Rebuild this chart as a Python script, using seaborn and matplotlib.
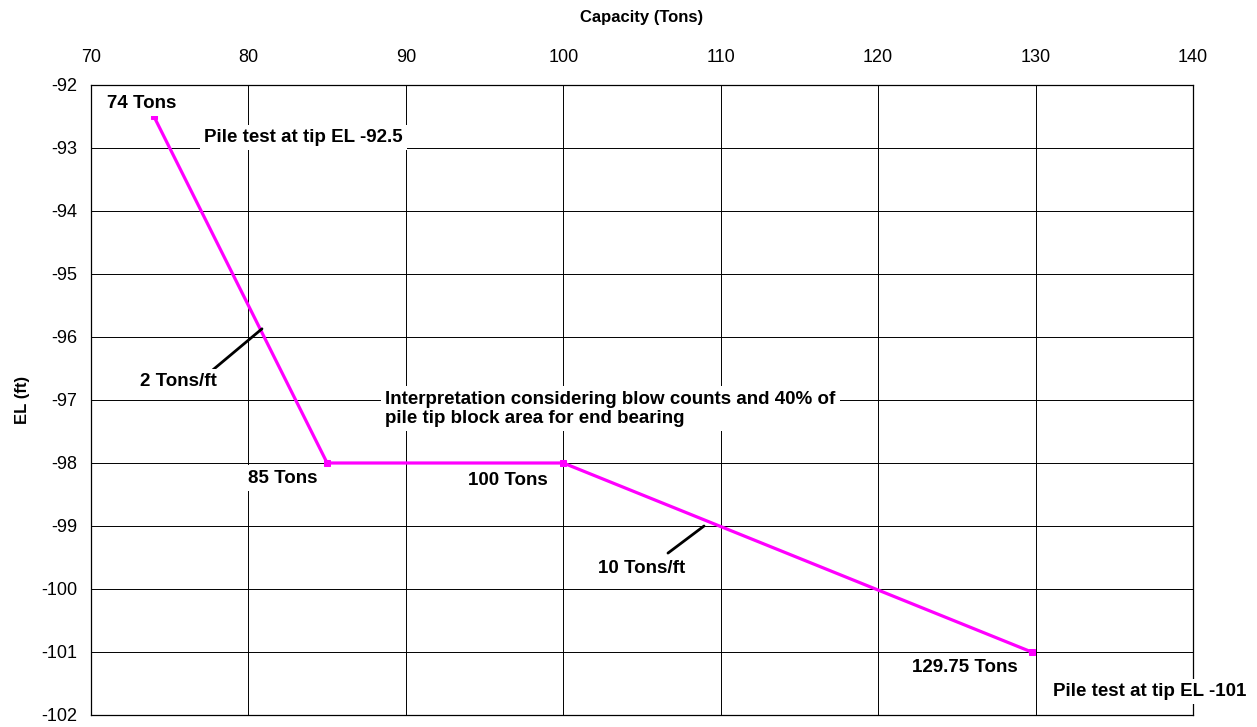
import matplotlib
matplotlib.use("Agg")
import matplotlib.pyplot as plt
import seaborn as sns
import pandas as pd

# capacity vs elevation
capacity = [74, 85, 100, 129.75]
elevation = [-92.5, -98, -98, -101]

x_ticks = [70, 80, 90, 100, 110, 120, 130, 140]
y_ticks = [-92, -93, -94, -95, -96, -97, -98, -99, -100, -101, -102]

# text labels (text, x, y, ha)
labels = [
    ("74 Tons", 73.24, -92.29, "center"),
    ("Pile test at tip EL -92.5", 77.2, -92.83, "left"),
    ("2 Tons/ft", 75.53, -96.71, "center"),
    ("85 Tons", 82.2, -98.24, "center"),
    ("100 Tons", 96.49, -98.27, "center"),
    ("Interpretation considering blow counts and 40% of\npile tip block area for end bearing", 88.7, -97.14, "left"),
    ("10 Tons/ft", 105.0, -99.67, "center"),
    ("129.75 Tons", 125.52, -101.25, "center"),
    ("Pile test at tip EL -101", 131.1, -101.63, "left"),
]
# leader lines for the slopes
leaders = [((77.75, -96.52), (80.86, -95.87)),
           ((106.65, -99.43), (108.94, -99.0))]

df = pd.DataFrame({"capacity": capacity, "elevation": elevation})

sns.set_style("white")
plt.rcParams["font.family"] = ["Liberation Sans", "DejaVu Sans"]
plt.rcParams["axes.unicode_minus"] = False
plt.rcParams["text.color"] = "black"
plt.rcParams["axes.labelcolor"] = "black"
plt.rcParams["xtick.color"] = "black"
plt.rcParams["ytick.color"] = "black"

fig = plt.figure(figsize=(12.57, 7.27), dpi=100)
ax = fig.add_axes([91 / 1257, 12 / 727, 1102 / 1257, 630 / 727])

sns.lineplot(data=df, x="capacity", y="elevation", sort=False, ax=ax,
             color="#ff00ff", linewidth=2.3, marker="s", markersize=5,
             markeredgecolor="#ff00ff", zorder=2)

ax.set_xlim(70, 140)
ax.set_ylim(-102, -92)
ax.set_xticks(x_ticks)
ax.set_yticks(y_ticks)
ax.xaxis.tick_top()
ax.xaxis.set_label_position("top")
ax.tick_params(axis="both", labelsize=13, length=4, width=0.8, color="black",
               direction="out", pad=6)
ax.tick_params(axis="x", length=0, pad=14)
ax.grid(True, color="black", linewidth=0.7)
for s in ax.spines.values():
    s.set_color("black")
    s.set_linewidth(0.9)

ax.set_xlabel("Capacity (Tons)", fontsize=12, fontweight="bold", labelpad=19)
ax.set_ylabel("EL (ft)", fontsize=12, fontweight="bold", labelpad=8)

for txt, x, y, ha in labels:
    ax.text(x, y, txt, ha=ha, va="center", fontsize=13.5, fontweight="bold",
            linespacing=1.2, zorder=4, clip_on=False,
            bbox=dict(fc="white", ec="none", pad=3))

for (x0, y0), (x1, y1) in leaders:
    ax.plot([x0, x1], [y0, y1], color="black", linewidth=2, zorder=3)

fig.savefig("out.png", dpi=100)
